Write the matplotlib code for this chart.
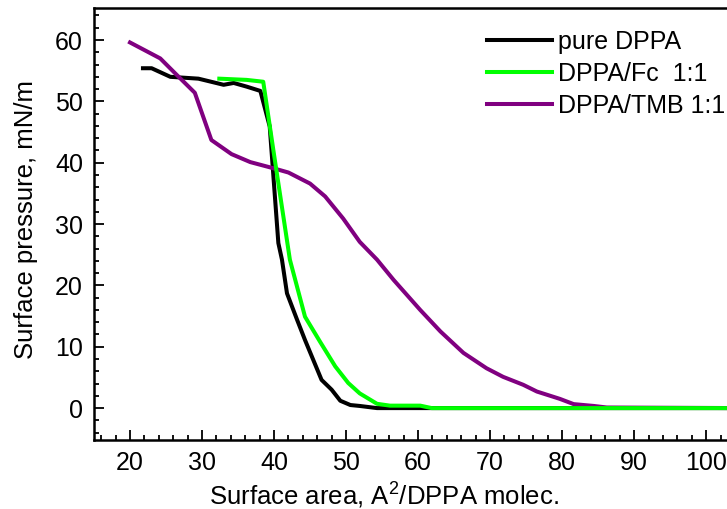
import matplotlib
matplotlib.use("Agg")
import matplotlib.pyplot as plt
from matplotlib.ticker import MultipleLocator

plt.rcParams['font.family'] = ['Liberation Sans', 'DejaVu Sans']
plt.rcParams['mathtext.fontset'] = 'custom'
plt.rcParams['mathtext.rm'] = 'Liberation Sans'

# pure DPPA
area_dppa = [21.8, 23.0, 25.6, 29.5, 33.0, 34.4, 36.2, 38.1, 39.4, 40.6, 41.1, 41.8,
             43.2, 44.3, 46.6, 48.0, 49.2, 50.6, 51.9, 54.3, 60.0, 80.0, 105.0]
pi_dppa = [55.4, 55.4, 54.0, 53.7, 52.7, 53.0, 52.4, 51.7, 45.9, 26.9, 24.2, 18.7,
           14.4, 11.1, 4.6, 3.0, 1.2, 0.5, 0.35, 0.0, 0.0, 0.0, 0.0]

# DPPA/Fc 1:1
area_fc = [32.4, 36.2, 38.5, 39.9, 42.2, 44.3, 46.4, 48.5, 50.3, 51.9, 54.3, 56.1,
           60.3, 61.9, 80.0, 105.0]
pi_fc = [53.7, 53.5, 53.2, 42.1, 24.2, 14.9, 10.8, 6.8, 4.1, 2.4, 0.7, 0.4,
         0.4, 0.0, 0.0, 0.0]

# DPPA/TMB 1:1
area_tmb = [20.0, 24.2, 26.5, 29.0, 31.3, 34.1, 36.7, 39.9, 42.0, 45.0, 47.1, 49.6,
            51.9, 54.3, 56.6, 60.3, 63.1, 66.3, 69.5, 71.8, 74.6, 76.5, 79.7, 81.6,
            84.4, 86.2, 105.0]
pi_tmb = [59.6, 57.0, 54.3, 51.4, 43.7, 41.4, 40.1, 39.1, 38.4, 36.6, 34.5, 30.9,
          27.1, 24.2, 20.9, 16.0, 12.5, 9.0, 6.5, 5.1, 3.8, 2.7, 1.5, 0.65,
          0.35, 0.1, 0.0]

fig = plt.figure(figsize=(7.27, 5.09), dpi=100)
ax = fig.add_axes([94 / 727, 1 - 440 / 509, 1 - 94 / 727, (440 - 7.5) / 509])

ax.plot(area_dppa, pi_dppa, color='black', lw=2.9, label='pure DPPA')
ax.plot(area_tmb, pi_tmb, color='#800080', lw=2.9, label='DPPA/TMB 1:1')
ax.plot(area_fc, pi_fc, color='#00ff00', lw=2.9, label='DPPA/Fc  1:1')

ax.set_xlim(15, 102.9)
ax.set_ylim(-5.2, 65.3)
ax.xaxis.set_major_locator(MultipleLocator(10))
ax.xaxis.set_minor_locator(MultipleLocator(2))
ax.yaxis.set_major_locator(MultipleLocator(10))
ax.yaxis.set_minor_locator(MultipleLocator(2))
ax.tick_params(which='both', direction='in', width=1.3, labelsize=18, pad=8)
ax.tick_params(which='major', length=7)
ax.tick_params(which='minor', length=3.5)
ax.spines['right'].set_visible(False)
for s in ['left', 'bottom', 'top']:
    ax.spines[s].set_linewidth(1.8)

ax.set_xlabel('Surface area, A$^2$/DPPA molec.', fontsize=18.5)
ax.set_ylabel('Surface pressure, mN/m', fontsize=18.5)
ax.xaxis.set_label_coords(384 / 727 / (1 - 94 / 727) - 94 / 727 / (1 - 94 / 727), -0.148)
ax.xaxis.label.set_verticalalignment('baseline')
ax.yaxis.set_label_coords(-0.088, 0.51)

h, l = ax.get_legend_handles_labels()
order = [0, 2, 1]
ax.legend([h[i] for i in order], [l[i] for i in order], loc='upper left',
          bbox_to_anchor=(487 / 727, 1 - 30 / 509), bbox_transform=fig.transFigure,
          frameon=False, fontsize=18, handlelength=2.6, handletextpad=0.25,
          labelspacing=0.32, borderpad=0, borderaxespad=0)

fig.savefig('out.png', dpi=100)
